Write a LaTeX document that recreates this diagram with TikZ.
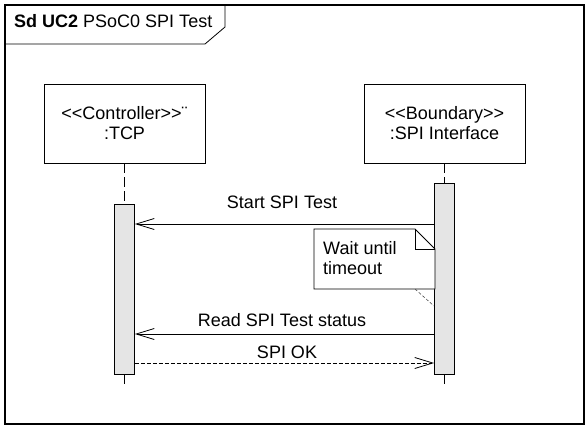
\documentclass[tikz,border=0pt]{standalone}
\usepackage{fontspec}
\setmainfont{Liberation Sans}
\usetikzlibrary{arrows.meta,calc}
\begin{document}
\begin{tikzpicture}[x=1pt,y=-1pt,
  every node/.style={font=\fontsize{18}{20}\selectfont},
  objbox/.style={draw,line width=0.8pt,minimum width=161pt,minimum height=79pt,align=center,inner sep=0pt},
  actbox/.style={draw,line width=0.8pt,fill=black!10,minimum width=20pt,inner sep=0pt},
  lifeline/.style={line width=0.8pt,dash pattern=on 10pt off 4pt},
  msg/.style={line width=0.8pt,-{Straight Barb[length=18pt,width=11pt,line width=0.8pt]}},
  reply/.style={msg,dash pattern=on 4pt off 2pt},
  lbl/.style={anchor=base,inner sep=0pt}]
\useasboundingbox (0,0) rectangle (588,428);
% frame
\draw[line width=1.4pt] (5,5) rectangle (584,424);
\draw[line width=0.8pt] (5,44) -- (205,44) -- (225,27) -- (225,5);
\node[anchor=base west,inner sep=0pt] (title) at (14,28) {\textbf{Sd UC2} PSoC0 SPI Test};
% lifeline heads
\node[objbox] (ctrl) at (124.5,123.5) {<{}<Controller>{}>¨\\:TCP};
\node[objbox] (bnd) at (444.5,123.5) {<{}<Boundary>{}>\\:SPI Interface};
% activations
\node[actbox,minimum height=170pt] (actA) at (124.5,289) {};
\node[actbox,minimum height=191pt] (actB) at (444.5,278.5) {};
\coordinate (endA) at (124.5,385);
\coordinate (endB) at (444.5,385);
\draw[lifeline] (ctrl.south) -- (actA.north);
\draw[lifeline] (bnd.south) -- (actB.north);
\draw[lifeline] (actA.south) -- (endA);
\draw[lifeline] (actB.south) -- (endB);
% messages
\draw[msg] (actB.west |- 0,224) -- (actA.east |- 0,224);
\node[lbl] (m1) at (282,208) {Start SPI Test};
\draw[msg] (actB.west |- 0,334) -- (actA.east |- 0,334);
\node[lbl] (m2) at (282,326) {Read SPI Test status};
\draw[reply] (actA.east |- 0,363) -- (actB.west |- 0,363);
\node[lbl,fill=white,inner sep=1.5pt] (m3) at (287,358.5) {SPI OK};
% note
\coordinate (nA) at (314,229);
\coordinate (nB) at (415,229);
\coordinate (nC) at (435,249);
\coordinate (nD) at (435,289);
\coordinate (nE) at (314,289);
\draw[line width=0.8pt,fill=white] (nA) -- (nB) -- (nC) -- (nD) -- (nE) -- cycle;
\draw[line width=0.8pt] (nB) -- (415,249) -- (nC);
\node[anchor=base west,inner sep=0pt,align=left] (note) at (323,274) {Wait until\\timeout};
\coordinate (nF) at (415,289);
\coordinate (nG) at (434,306);
\draw[line width=0.6pt,black!70,dash pattern=on 3pt off 2pt] (nF) -- (nG);
\end{tikzpicture}
\end{document}
